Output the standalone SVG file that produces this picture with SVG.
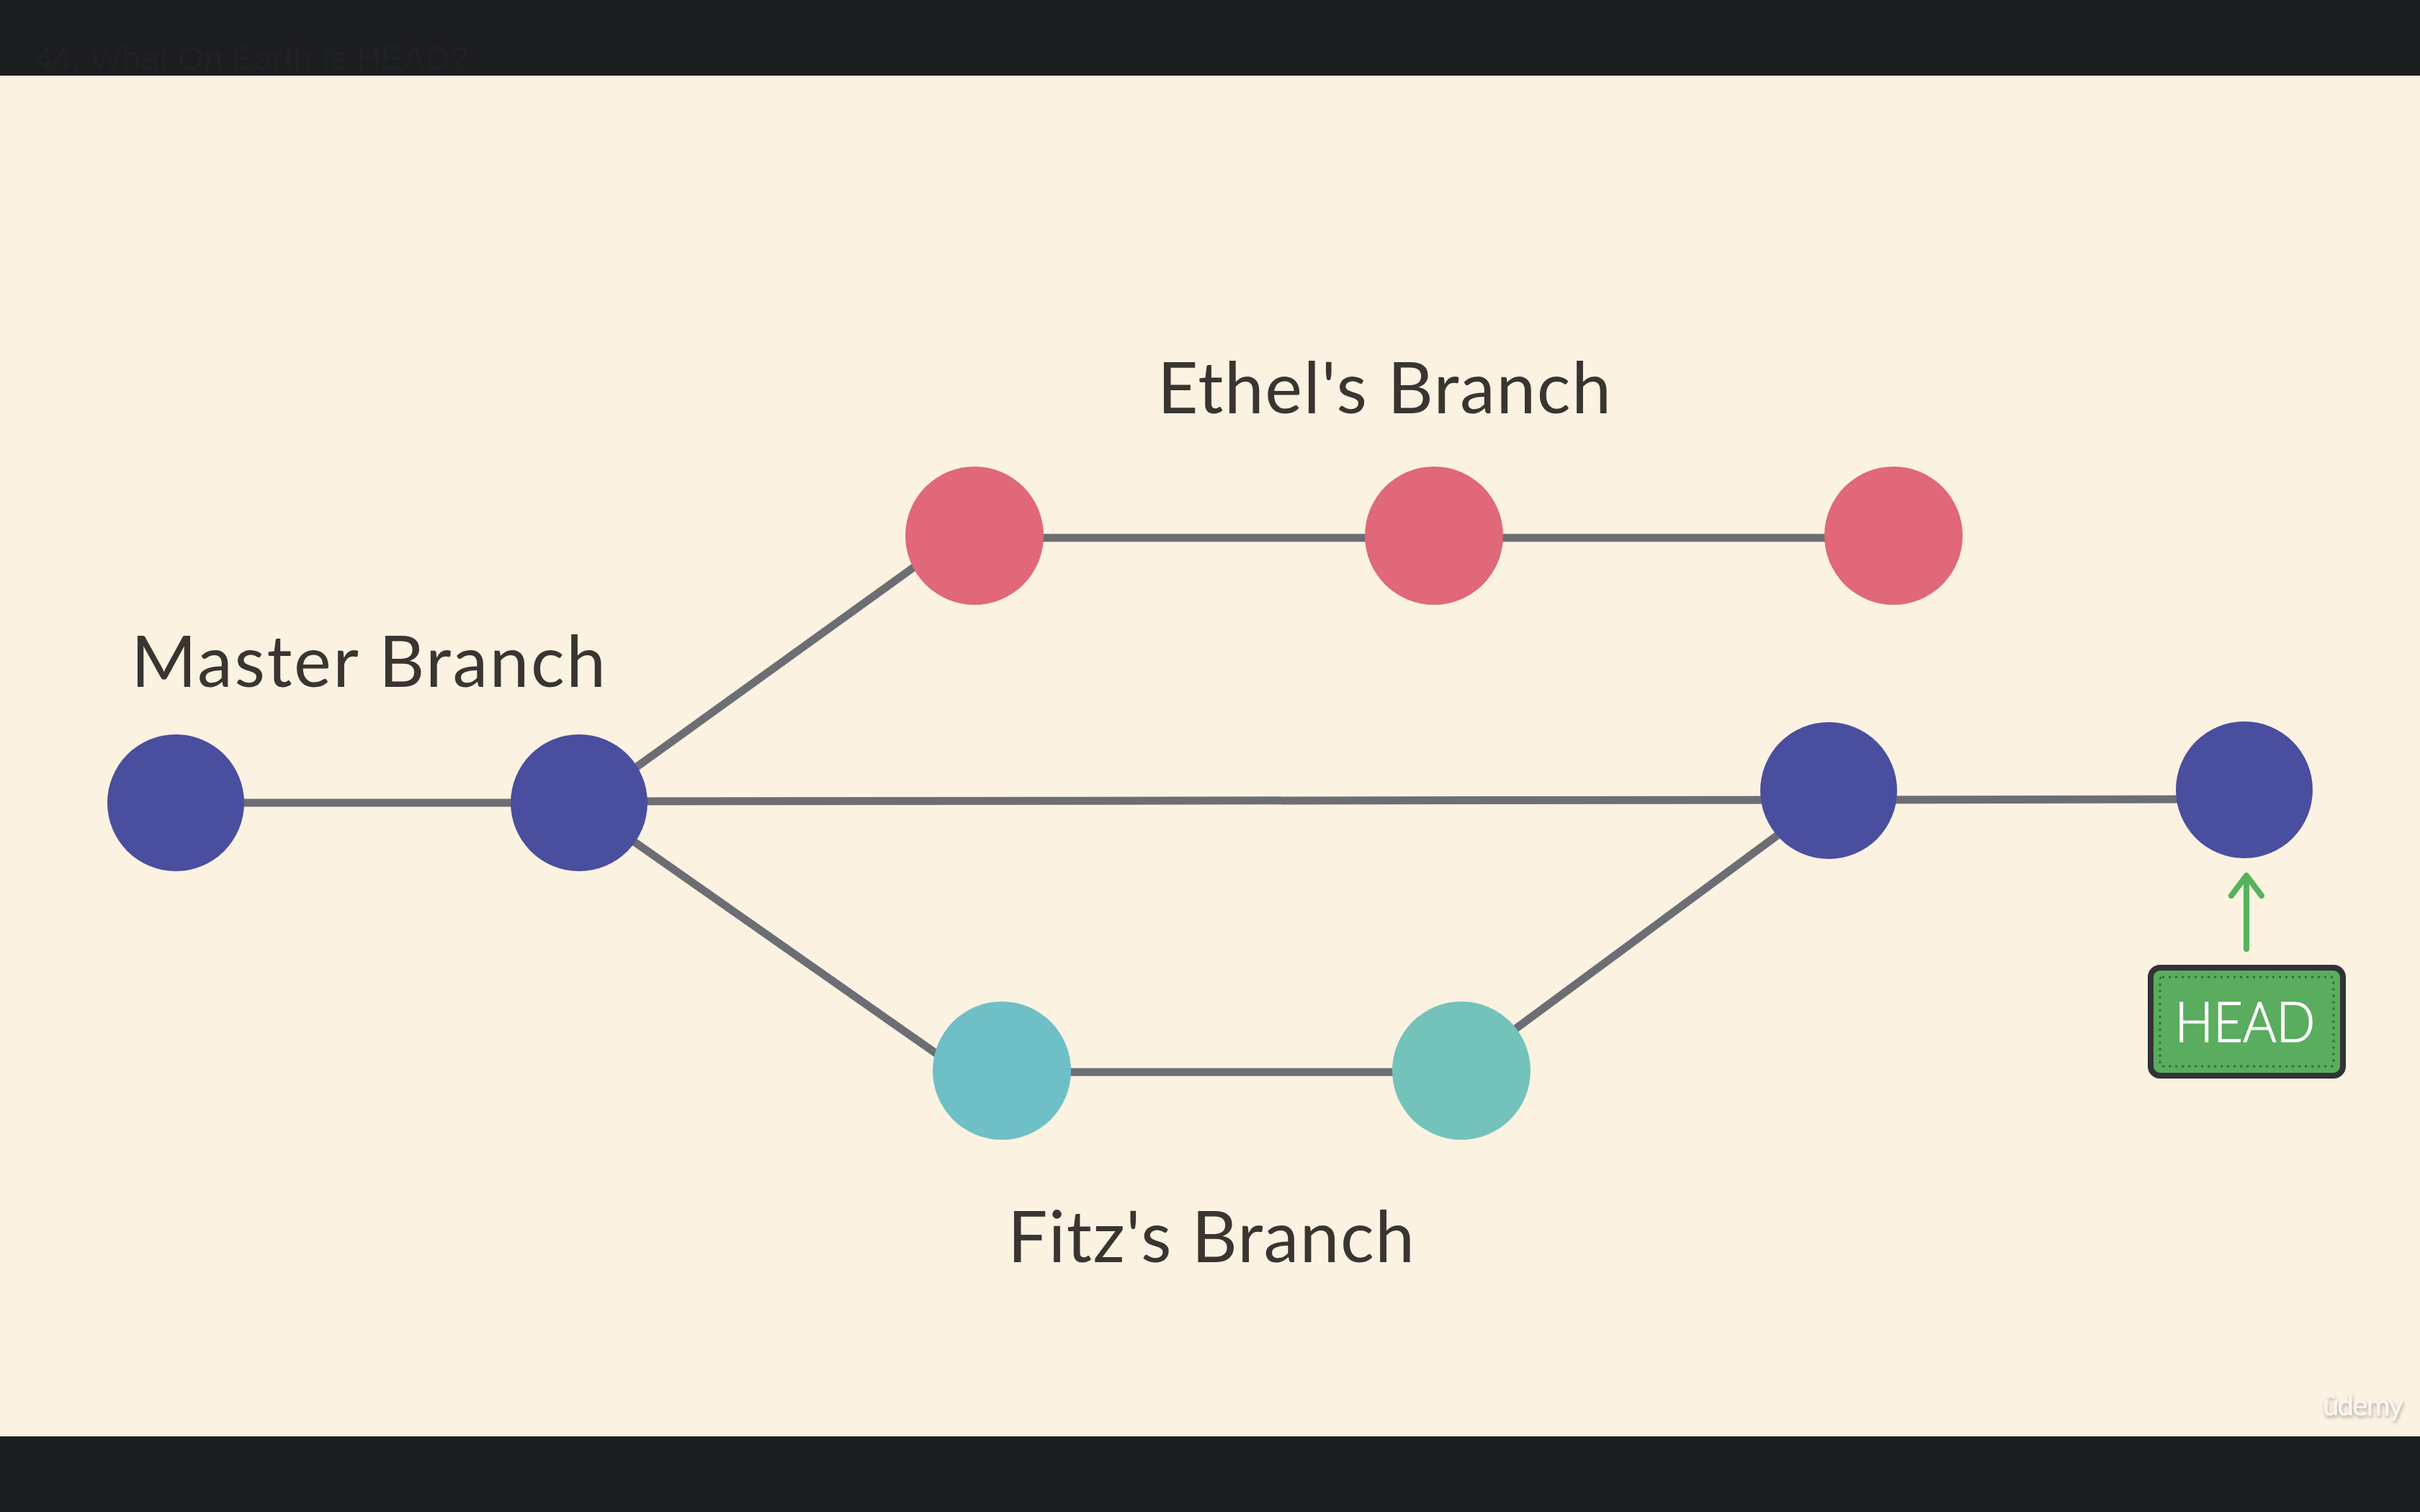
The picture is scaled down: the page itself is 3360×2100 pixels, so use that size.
<svg xmlns="http://www.w3.org/2000/svg" width="3360" height="2100" viewBox="0 0 3360 2100">
  <style>
    .bar { fill: #1c1d1f; }
    .edge { stroke: #6c6e73; stroke-width: 11; fill: none; }
    .master { fill: #4a4e9e; }
    .ethel { fill: #e06878; }
    .fitz { fill: #6fbfc6; }
    .label { font-family: Lato, "Open Sans", sans-serif; font-weight: 400; font-size: 98px; fill: #3a3531; }
    .head-box { fill: #5aac5e; stroke: #333335; stroke-width: 8; }
    .head-inner { fill: none; stroke: #2f6e37; stroke-width: 3; stroke-dasharray: 3 6; }
    .head-text { font-family: Lato, "Open Sans", sans-serif; font-weight: 300; font-size: 76px; fill: #ffffff; stroke: #ffffff; stroke-width: 1.2; }
    .pointer { stroke: #57b25c; stroke-width: 8; fill: none; stroke-linecap: round; stroke-linejoin: round; }
  </style>
  <defs>
    <filter id="soft-shadow" x="-20%" y="-40%" width="140%" height="180%">
      <feDropShadow dx="1" dy="3" stdDeviation="2.5" flood-color="#000000" flood-opacity="0.35"/>
    </filter>
  </defs>

  <!-- canvas -->
  <rect x="0" y="0" width="3360" height="2100" fill="#fbf2e2"/>
  <rect class="bar" x="0" y="0" width="3360" height="105"/>
  <rect class="bar" x="0" y="1995" width="3360" height="105"/>
  <text x="48" y="97" font-family="'Liberation Sans', Arial, sans-serif" font-size="47" fill="#202124" textLength="602" lengthAdjust="spacingAndGlyphs">44. What On Earth Is HEAD?</text>

  <!-- branch titles -->
  <text class="label" x="182" y="954" textLength="659" lengthAdjust="spacing">Master Branch</text>
  <text class="label" x="1607" y="574" textLength="630" lengthAdjust="spacing">Ethel's Branch</text>
  <text class="label" x="1399" y="1753" textLength="565" lengthAdjust="spacing">Fitz's Branch</text>

  <!-- commit links -->
  <g id="connectors">
    <line class="edge" x1="244" y1="1115" x2="804" y2="1115"/>
    <line class="edge" x1="804" y1="1113" x2="2539" y2="1111"/>
    <line class="edge" x1="2539" y1="1111" x2="3116" y2="1110"/>
    <line class="edge" x1="880" y1="1068" x2="1270" y2="787"/>
    <line class="edge" x1="1353" y1="747" x2="2629" y2="747"/>
    <line class="edge" x1="879" y1="1168" x2="1301" y2="1464"/>
    <line class="edge" x1="1391" y1="1489" x2="2029" y2="1489"/>
    <line class="edge" x1="2100" y1="1432" x2="2468" y2="1160"/>
    <g id="head-pointer">
      <path class="pointer" d="M3119 1318 L3119 1218 M3098 1244 L3119 1216 L3140 1244"/>
    </g>
  </g>

  <!-- master commits -->
  <g id="master-1"><circle class="master" cx="244" cy="1115" r="95"/></g>
  <g id="master-2"><circle class="master" cx="804" cy="1115" r="95"/></g>
  <g id="master-merge"><circle class="master" cx="2539" cy="1098" r="95"/></g>
  <g id="master-tip"><circle class="master" cx="3116" cy="1097" r="95"/></g>

  <!-- Ethel's commits -->
  <g id="ethel-1"><circle class="ethel" cx="1353" cy="744" r="96"/></g>
  <g id="ethel-2"><circle class="ethel" cx="1991" cy="744" r="96"/></g>
  <g id="ethel-3"><circle class="ethel" cx="2629" cy="744" r="96"/></g>

  <!-- Fitz's commits -->
  <g id="fitz-1"><circle class="fitz" cx="1391" cy="1487" r="96"/></g>
  <g id="fitz-2"><circle class="fitz" cx="2029" cy="1487" r="96" style="fill:#73c3bb"/></g>

  <!-- HEAD label -->
  <g id="head">
    <rect class="head-box" x="2986" y="1344" width="267" height="150" rx="13"/>
    <rect class="head-inner" x="2999" y="1357" width="241" height="124" rx="3"/>
    <text class="head-text" x="3117" y="1447" text-anchor="middle" textLength="195" lengthAdjust="spacingAndGlyphs">HEAD</text>
  </g>

  <!-- watermark -->
  <text x="3225" y="1966" font-family="Lato, 'Open Sans', sans-serif" font-size="40" fill="#fbf6ee" textLength="112" lengthAdjust="spacing" filter="url(#soft-shadow)">ûdemy</text>
</svg>
